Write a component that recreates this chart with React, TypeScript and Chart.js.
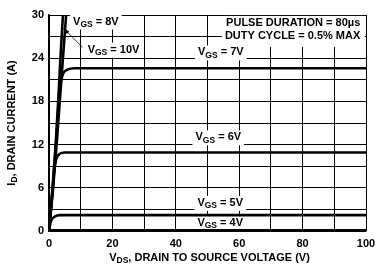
import React, { useEffect, useRef } from "react";
import { Chart, registerables } from "chart.js";
Chart.register(...registerables);

// Axis ranges / ticks
const xMin = 0, xMax = 100, xStep = 10, xLabelStep = 20;
const yMin = 0, yMax = 30, yStep = 3, yLabelStep = 6;

// Curves: V_DS (V) and I_D (A)
const vgs10V = [0, 1.1, 2.1, 2.9, 3.6, 4.4, 4.7];
const vgs10I = [0, 6, 12, 18, 24, 30, 32];
const vgs8V = [0, 1.3, 2.4, 3.4, 4.4, 5.4, 5.7];
const vgs8I = [0, 6, 12, 18, 24, 30, 32];
const vgs7V = [0, 1.2, 2.2, 3.1, 3.7, 4.5, 5.8, 8, 100];
const vgs7I = [0, 6, 12, 18, 20.6, 21.9, 22.4, 22.6, 22.6];
const vgs6V = [0, 1.2, 1.7, 2.3, 3.3, 5, 100];
const vgs6I = [0, 6, 8.6, 10, 10.7, 10.9, 10.9];
const vgs5V = [0, 0.4, 0.9, 1.8, 3.5, 100];
const vgs5I = [0, 1.0, 1.6, 2.0, 2.2, 2.2];
const vgs4V = [0, 100];
const vgs4I = [0.08, 0.08];

const FONT = '"Liberation Sans", Arial, sans-serif';

function pts(xs: number[], ys: number[]) {
  return xs.map((x, i) => ({ x, y: ys[i] }));
}

type Piece = { t: string; sub?: boolean };

function measure(ctx: CanvasRenderingContext2D, pieces: Piece[], size: number) {
  let w = 0;
  for (const p of pieces) {
    ctx.font = `bold ${p.sub ? size - 2.5 : size}px ${FONT}`;
    w += ctx.measureText(p.t).width;
  }
  return w;
}

function drawPieces(ctx: CanvasRenderingContext2D, pieces: Piece[], x: number, y: number, size: number) {
  let cx = x;
  ctx.textBaseline = "middle";
  ctx.textAlign = "left";
  ctx.fillStyle = "#000";
  for (const p of pieces) {
    ctx.font = `bold ${p.sub ? size - 2.5 : size}px ${FONT}`;
    ctx.fillText(p.t, cx, p.sub ? y + 3 : y);
    cx += ctx.measureText(p.t).width;
  }
}

const vgsLabel = (v: string): Piece[] => [{ t: "V" }, { t: "GS", sub: true }, { t: " = " + v }];

// label anchors (data coords), align: c=center, l=left
const labels: { p: Piece[]; x: number; y: number; align: "c" | "l" | "r" }[] = [
  { p: vgsLabel("8V"), x: 7.6, y: 29.1, align: "l" },
  { p: vgsLabel("10V"), x: 12.2, y: 25.2, align: "l" },
  { p: vgsLabel("7V"), x: 54.2, y: 24.8, align: "c" },
  { p: vgsLabel("6V"), x: 53.4, y: 13.0, align: "c" },
  { p: vgsLabel("5V"), x: 54.0, y: 3.9, align: "c" },
  { p: vgsLabel("4V"), x: 54.0, y: 1.15, align: "c" },
  { p: [{ t: "PULSE DURATION = 80µs" }], x: 98.2, y: 28.9, align: "r" },
  { p: [{ t: "DUTY CYCLE = 0.5% MAX" }], x: 98.2, y: 27.1, align: "r" },
];

const annotPlugin = {
  id: "annot",
  beforeDatasetsDraw(chart: any) {
    const ctx = chart.ctx as CanvasRenderingContext2D;
    const xs = chart.scales.x, ys = chart.scales.y;
    const size = 11;
    ctx.save();
    // white box for pulse note
    ctx.fillStyle = "#fff";
    ctx.fillRect(xs.getPixelForValue(56.5), ys.getPixelForValue(30) + 1, xs.getPixelForValue(99.6) - xs.getPixelForValue(56.5), 31);
    for (const l of labels) {
      const w = measure(ctx, l.p, size);
      let px = xs.getPixelForValue(l.x);
      const py = ys.getPixelForValue(l.y);
      if (l.align === "c") px -= w / 2;
      if (l.align === "r") px -= w;
      ctx.fillStyle = "#fff";
      ctx.fillRect(px - 3, py - 7, w + 6, 15);
      drawPieces(ctx, l.p, px, py, size);
    }
    // leader line with arrow for 10V
    const x1 = xs.getPixelForValue(10.6), y1 = ys.getPixelForValue(25.5);
    const x2 = xs.getPixelForValue(4.5), y2 = ys.getPixelForValue(28.2);
    ctx.strokeStyle = "#000";
    ctx.lineWidth = 0.8;
    ctx.beginPath();
    ctx.moveTo(x1, y1);
    ctx.lineTo(x2, y2);
    ctx.stroke();
    const ang = Math.atan2(y2 - y1, x2 - x1);
    ctx.fillStyle = "#000";
    ctx.beginPath();
    ctx.moveTo(x2, y2);
    ctx.lineTo(x2 - 7 * Math.cos(ang - 0.25), y2 - 7 * Math.sin(ang - 0.25));
    ctx.lineTo(x2 - 7 * Math.cos(ang + 0.25), y2 - 7 * Math.sin(ang + 0.25));
    ctx.closePath();
    ctx.fill();
    ctx.restore();
  },
  afterDraw(chart: any) {
    const ctx = chart.ctx as CanvasRenderingContext2D;
    const area = chart.chartArea;
    const size = 11;
    ctx.save();
    const xt: Piece[] = [{ t: "V" }, { t: "DS", sub: true }, { t: ", DRAIN TO SOURCE VOLTAGE (V)" }];
    const wx = measure(ctx, xt, size);
    drawPieces(ctx, xt, (area.left + area.right) / 2 - wx / 2 + 2, 258, size);
    const yt: Piece[] = [{ t: "I" }, { t: "D", sub: true }, { t: ", DRAIN CURRENT (A)" }];
    const wy = measure(ctx, yt, size);
    ctx.translate(12, (area.top + area.bottom) / 2);
    ctx.rotate(-Math.PI / 2);
    drawPieces(ctx, yt, -wy / 2, 0, size);
    ctx.restore();
  },
};

export default function App() {
  const ref = useRef<HTMLCanvasElement>(null);
  useEffect(() => {
    document.body.style.margin = "0";
    const ds = (xs: number[], ys: number[]) => ({
      data: pts(xs, ys),
      borderColor: "#000",
      borderWidth: 2.6,
      pointRadius: 0,
      fill: false,
      cubicInterpolationMode: "monotone" as const,
    });
    const chart = new Chart(ref.current!, {
      type: "line",
      data: {
        datasets: [
          ds(vgs10V, vgs10I),
          ds(vgs8V, vgs8I),
          ds(vgs7V, vgs7I),
          ds(vgs6V, vgs6I),
          ds(vgs5V, vgs5I),
          ds(vgs4V, vgs4I),
        ],
      },
      options: {
        animation: false,
        responsive: false,
        layout: { padding: { top: 15, right: 21, left: 0, bottom: 0 } },
        plugins: { legend: { display: false }, tooltip: { enabled: false } },
        scales: {
          x: {
            type: "linear",
            min: xMin,
            max: xMax,
            afterFit: (s: any) => { s.height = 42; },
            ticks: {
              stepSize: xStep,
              padding: 6,
              color: "#000",
              font: { family: FONT, size: 11, weight: "bold" },
              maxRotation: 0,
              autoSkip: false,
              callback: (v: any) => (Number(v) % xLabelStep === 0 ? String(v) : ""),
            },
            grid: { color: "#000", lineWidth: 1, drawTicks: false },
            border: { color: "#000", width: 1.5 },
          },
          y: {
            type: "linear",
            min: yMin,
            max: yMax,
            afterFit: (s: any) => { s.width = 49; },
            ticks: {
              stepSize: yStep,
              padding: 5,
              color: "#000",
              font: { family: FONT, size: 11, weight: "bold" },
              autoSkip: false,
              callback: (v: any) => (Number(v) % yLabelStep === 0 ? String(v) : ""),
            },
            grid: { color: "#000", lineWidth: 1, drawTicks: false },
            border: { color: "#000", width: 1.5 },
          },
        },
      },
      plugins: [annotPlugin],
    } as any);
    return () => chart.destroy();
  }, []);
  return <canvas ref={ref} width={387} height={273} style={{ display: "block" }} />;
}
